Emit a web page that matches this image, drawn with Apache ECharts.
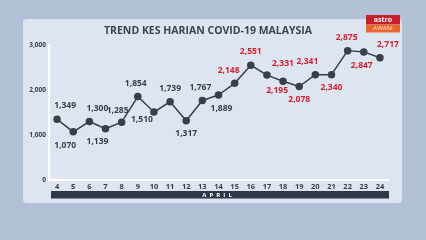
<!DOCTYPE html>
<html><head><meta charset="utf-8">
<script src="https://cdn.jsdelivr.net/npm/echarts@6/dist/echarts.min.js"></script>
<style>html,body{margin:0;padding:0;}#c{width:426px;height:240px;}</style>
</head><body><div id="c"></div>
<script>
const days = ['4','5','6','7','8','9','10','11','12','13','14','15','16','17','18','19','20','21','22','23','24'];
const cases = [1349,1070,1300,1139,1285,1854,1510,1739,1317,1767,1889,2148,2551,2331,2195,2078,2341,2340,2875,2847,2717];
const yTicks = [0,1000,2000,3000];
const title = 'TREND KES HARIAN COVID-19 MALAYSIA';
const monthLabel = 'A  P  R  I  L';

// label styling per point: [position, dx, dy]
const labelStyle = [
  ['top',8,0],['bottom',-8,0],['top',8,0],['bottom',-8,0],['top',-4,2],
  ['top',-2,0],['bottom',-12,-6],['top',0,0],['bottom',0,0],['top',-2,0],['bottom',3,0],
  ['top',-6,0],['top',0,0],['top',16,2],['bottom',-6,-4],['bottom',0,0],
  ['top',-8,0],['bottom',0,0],['top',-1,0],['bottom',-2,0],['top',8,0]
];
const redFrom = 11;

const chart = echarts.init(document.getElementById('c'));
const data = cases.map((v,i)=>({
  value: v,
  label: {
    position: labelStyle[i][0],
    offset: [labelStyle[i][1], labelStyle[i][2]],
    color: i >= redFrom ? '#d4202f' : '#3a3e48'
  }
}));
chart.setOption({
  backgroundColor: '#b3c1d7',
  graphic: [
    {type:'rect', shape:{x:23,y:19,width:379,height:184,r:4}, style:{fill:'#dde5f1'}, z:-10},
    {type:'rect', shape:{x:51,y:191,width:338,height:7.5}, style:{fill:'#2f3647'}},
    {type:'text', x:217, y:194.8, style:{text:monthLabel, fill:'#ffffff', font:'bold 6px "Open Sans"', align:'center', verticalAlign:'middle'}},
    {type:'text', x:208, y:31, style:{text:title, fill:'#3d4250', font:'bold 10.5px "Open Sans"', align:'center', verticalAlign:'middle'}},
    {type:'rect', shape:{x:366,y:15,width:34,height:9.5}, style:{fill:'#c9202c'}},
    {type:'rect', shape:{x:366,y:24.5,width:34,height:8}, style:{fill:'#e8672f'}},
    {type:'text', x:383, y:19.8, style:{text:'astro', fill:'#ffffff', font:'bold 7px "Open Sans"', align:'center', verticalAlign:'middle'}},
    {type:'text', x:383, y:28.6, style:{text:'AWANI', fill:'#fbe3d6', font:'6px "Open Sans"', align:'center', verticalAlign:'middle'}}
  ],
  grid: {left:49, right:38, top:45, bottom:60},
  xAxis: {
    type:'category', data: days, boundaryGap:true,
    axisLine:{lineStyle:{color:'#ffffff', width:2}},
    axisTick:{show:false},
    axisLabel:{color:'#3a3e48', fontSize:7.5, fontWeight:'bold', fontFamily:'Open Sans', margin:3, interval:0}
  },
  yAxis: {
    type:'value', min:0, max:3000, interval:1000,
    axisLine:{show:true, lineStyle:{color:'#ffffff', width:2}},
    axisTick:{show:false},
    splitLine:{show:false},
    axisLabel:{color:'#3a3e48', fontSize:6.5, fontWeight:'bold', fontFamily:'Open Sans', margin:3,
      formatter: v => yTicks.includes(v) ? v.toLocaleString('en-US') : ''}
  },
  series: [{
    type:'line', data: data,
    symbol:'circle', symbolSize:7.5,
    lineStyle:{color:'#3a3e48', width:1.5},
    itemStyle:{color:'#3a3e48'},
    label:{show:true, fontSize:8.5, fontWeight:'bold', fontFamily:'Open Sans', distance:5,
      formatter: p => p.value.toLocaleString('en-US')},
    animation:false
  }]
});
</script></body></html>
